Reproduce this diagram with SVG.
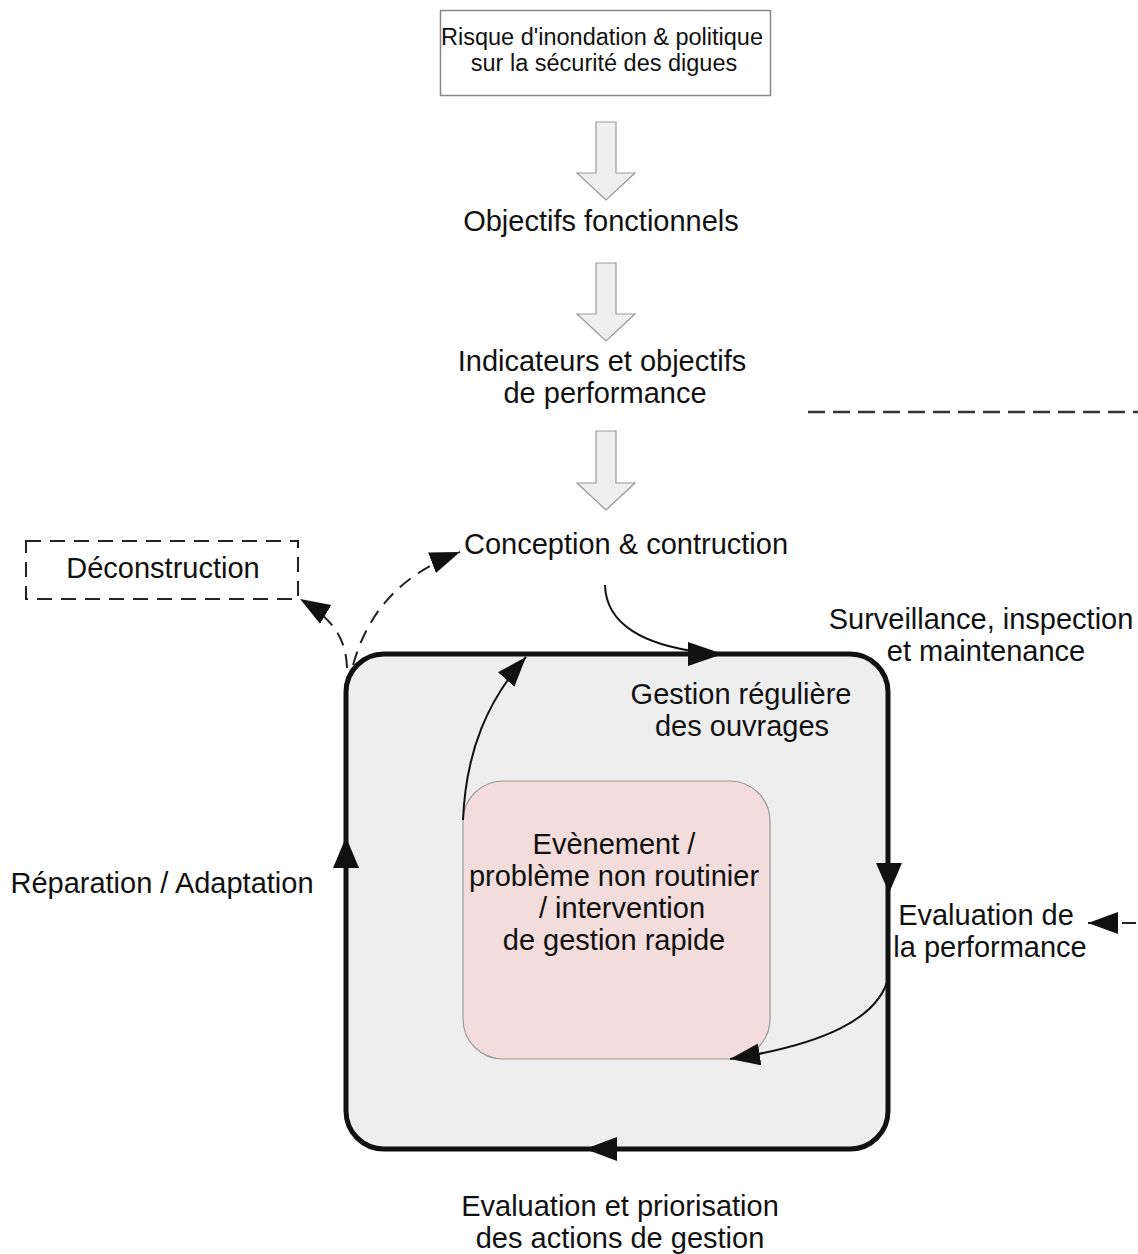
<svg xmlns="http://www.w3.org/2000/svg" width="1138" height="1254" viewBox="0 0 1138 1254">
<defs>
<style>
text{font-family:"Liberation Sans",Arial,sans-serif;fill:#111;text-anchor:middle}
.t{font-size:29px}
.s{font-size:23.5px}
.block{fill:#efefef;stroke:#999;stroke-width:1.2}
.thin{fill:none;stroke:#111;stroke-width:2}
.dash{fill:none;stroke:#222;stroke-width:2;stroke-dasharray:14 9}
.head{fill:#111}
</style>
<marker id="ah" markerUnits="userSpaceOnUse" markerWidth="32" markerHeight="24" refX="30" refY="11" orient="auto">
<path d="M0,0 L30,11 L0,22 Z" fill="#111"/>
</marker>
</defs>
<rect width="1138" height="1254" fill="#fff"/>

<g id="policy">
<rect x="440.5" y="10.5" width="330" height="85" fill="#fff" stroke="#888" stroke-width="1.5"/>
<text class="s" x="602" y="45">Risque d'inondation &amp; politique</text>
<text class="s" x="604" y="71">sur la sécurité des digues</text>
</g>

<g id="arrows-block">
<path class="block" d="M596,122 H616 V173 H635 L606,200 L577,173 H596 Z"/>
<path class="block" d="M596,263 H616 V314 H635 L606,341 L577,314 H596 Z"/>
<path class="block" d="M596,431 H616 V483 H635 L606,510 L577,483 H596 Z"/>
</g>

<g id="objectifs"><text class="t" x="601" y="231">Objectifs fonctionnels</text></g>
<g id="indicateurs">
<text class="t" x="602" y="371">Indicateurs et objectifs</text>
<text class="t" x="605" y="403">de performance</text>
</g>
<g id="conception"><text class="t" x="626" y="554">Conception &amp; contruction</text></g>

<g id="deconstruction">
<rect x="26" y="541" width="272" height="58" fill="none" stroke="#222" stroke-width="2" stroke-dasharray="15 9"/>
<text class="t" x="163" y="578">Déconstruction</text>
</g>

<g id="gestion">
<rect x="346" y="654" width="542" height="495" rx="38" fill="#efeeef" stroke="#111" stroke-width="5"/>
<text class="t" x="741" y="704">Gestion régulière</text>
<text class="t" x="742" y="736">des ouvrages</text>
</g>

<g id="evenement">
<rect x="463" y="781" width="307" height="278" rx="40" fill="#f2dcdc" stroke="#999" stroke-width="1.2"/>
<text class="t" x="614" y="854">Evènement /</text>
<text class="t" x="614" y="886">problème non routinier</text>
<text class="t" x="622" y="918">/ intervention</text>
<text class="t" x="614" y="950">de gestion rapide</text>
</g>

<g id="labels">
<text class="t" x="981" y="629">Surveillance, inspection</text>
<text class="t" x="986" y="661">et maintenance</text>
<text class="t" x="162" y="893">Réparation / Adaptation</text>
<text class="t" x="986" y="925">Evaluation de</text>
<text class="t" x="990" y="957">la performance</text>
<text class="t" x="620" y="1216">Evaluation et priorisation</text>
<text class="t" x="620" y="1248">des actions de gestion</text>
</g>

<g id="connectors">
<path class="head" d="M723,654 L688,642 L688,666 Z"/>
<path class="head" d="M889,893 L876,863 L902,863 Z"/>
<path class="head" d="M585,1149 L617,1137 L617,1161 Z"/>
<path class="head" d="M346,837 L333,868 L359,868 Z"/>
<path class="thin" d="M605,585 C606,625 645,645 700,652"/>
<path class="thin" d="M463,820 C466,750 488,700 526,657" marker-end="url(#ah)"/>
<path class="thin" d="M889,975 C880,1020 820,1045 730,1059" marker-end="url(#ah)"/>
<path class="dash" d="M347,668 C346,640 335,620 300,599" marker-end="url(#ah)"/>
<path class="dash" d="M353,665 C368,612 400,575 460,552" marker-end="url(#ah)"/>
<path d="M808,412 H1138" fill="none" stroke="#333" stroke-width="2.5" stroke-dasharray="17 8"/>
<path d="M1136,923 H1088" fill="none" stroke="#222" stroke-width="2" stroke-dasharray="14 7" marker-end="url(#ah)"/>
</g>
</svg>
